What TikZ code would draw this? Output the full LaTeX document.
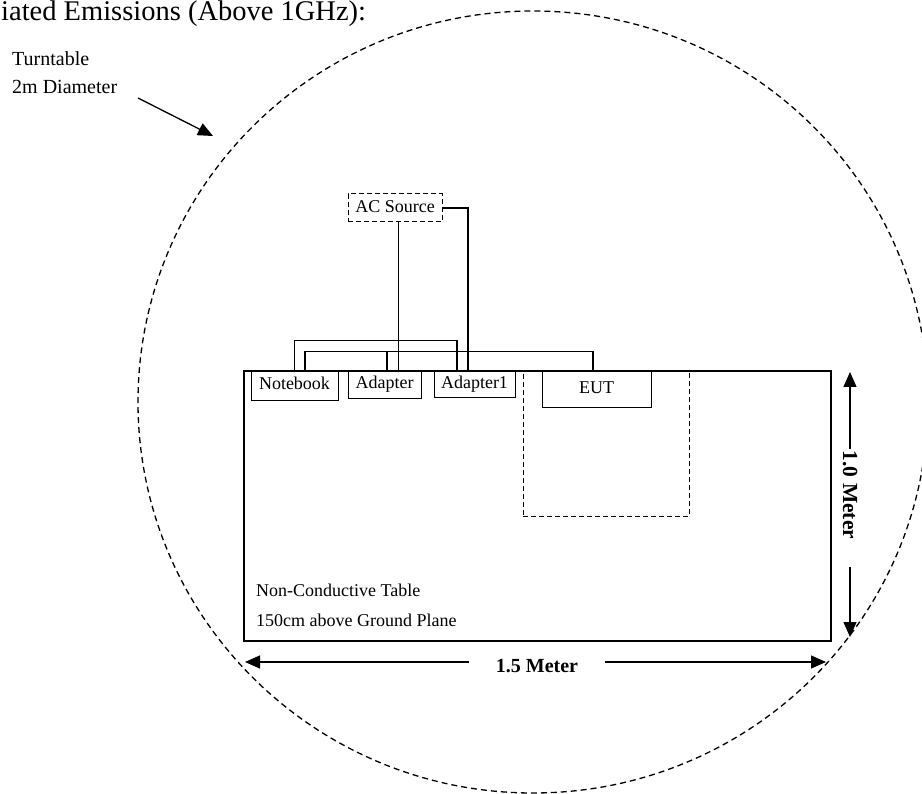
\documentclass[tikz,border=0pt]{standalone}
\usepackage{fontspec}
\setmainfont{Liberation Serif}
\usetikzlibrary{arrows.meta,positioning}

\begin{document}
\begin{tikzpicture}
[x=1pt, y=1pt,
baseshape/.style={draw=black, inner sep=2pt, text height=12pt, text depth=3.5pt, font=\fontsize{18}{22}\selectfont},
unit/.style={baseshape, rectangle, line width=0.8pt},
zone/.style={baseshape, rectangle, dash pattern=on 5pt off 3pt, line width=1pt},
cable/.style={line width=1.4pt},
feed/.style={line width=0.8pt},
dimarrow/.style={line width=1.3pt, -{Triangle[length=15pt, width=13pt]}},
dimlabel/.style={font=\bfseries\fontsize{20}{24}\selectfont, inner sep=0pt},
note/.style={font=\fontsize{18}{22}\selectfont, anchor=base west, inner sep=0pt},
]
\useasboundingbox (0,0) rectangle (922,-794);

% turntable
\draw[dash pattern=on 6pt off 4pt, line width=1.3pt] (533,-402) ellipse [x radius=395, y radius=391];

\node (title) [note, font=\fontsize{28.5}{32}\selectfont] at (1,-21) {iated Emissions (Above 1GHz):};
\node (ttlabel) [note, font=\fontsize{20}{24}\selectfont] at (12,-66) {Turntable};
\node (ttsize) [note, font=\fontsize{20}{24}\selectfont] at ([yshift=-28pt]ttlabel.base west) {2m Diameter};
\coordinate (ttTail) at (138,-98);
\coordinate (ttTip) at (213,-136);
\draw[dimarrow] (ttTail) -- (ttTip);

% table and set-up
\node (table) [draw, line width=1.8pt, minimum width=587, minimum height=270, inner sep=0pt] at (537.5,-506) {};
\node (eutzone) [zone, minimum width=166, minimum height=145] at (606,-443.5) {};
\node (notebook) [unit, minimum width=87, minimum height=29] at (294.5,-385.5) {Notebook};
\node (adapter) [unit, minimum width=73, minimum height=27] at (384.5,-384.5) {Adapter};
\node (adapterA) [unit, minimum width=81, minimum height=26] at (474.5,-384) {Adapter1};
\node (eut) [unit, minimum width=109, minimum height=36] at (596.5,-389) {EUT};
\node (acsrc) [zone, minimum width=94, minimum height=28] at (395,-208) {AC Source};

\node (tabname) [note] at (256,-596) {Non-Conductive Table};
\node (tabsub) [note] at ([yshift=-30pt]tabname.base west) {150cm above Ground Plane};

% cables
\draw[cable] (notebook.north) -- ++(0,30) -| ([xshift=-17.5pt]adapterA.north);
\draw[cable] ([xshift=10.5pt]notebook.north) -- ++(0,19) -| ([xshift=-3.5pt]eut.north);
\draw[cable] ([xshift=2.5pt]adapter.north) -- ++(0,19);
\draw[feed] ([xshift=3pt]acsrc.south) -- ([xshift=3pt]acsrc.south |- adapter.north);
\draw[cable] (acsrc.east) -| ([xshift=-6.5pt]adapterA.north);

% dimensions
\node (wlab) [dimlabel, inner xsep=27pt] at (537,-666) {1.5 Meter};
\coordinate (wL) at (245,-662);
\coordinate (wR) at (826,-662);
\draw[dimarrow] (wlab.west |- wL) -- (wL);
\draw[dimarrow] (wlab.east |- wR) -- (wR);
\node (hlab) [dimlabel, rotate=-90, inner xsep=2pt, font=\bfseries\fontsize{21.5}{24}\selectfont] at (850,-495) {1.0 Meter};
\coordinate (hT) at (850,-372);
\coordinate (hB) at (850,-637);
\draw[dimarrow] (hlab.west) -- (hT);
\draw[dimarrow, shorten <=26pt] (hlab.east) -- (hB);
\end{tikzpicture}
\end{document}
